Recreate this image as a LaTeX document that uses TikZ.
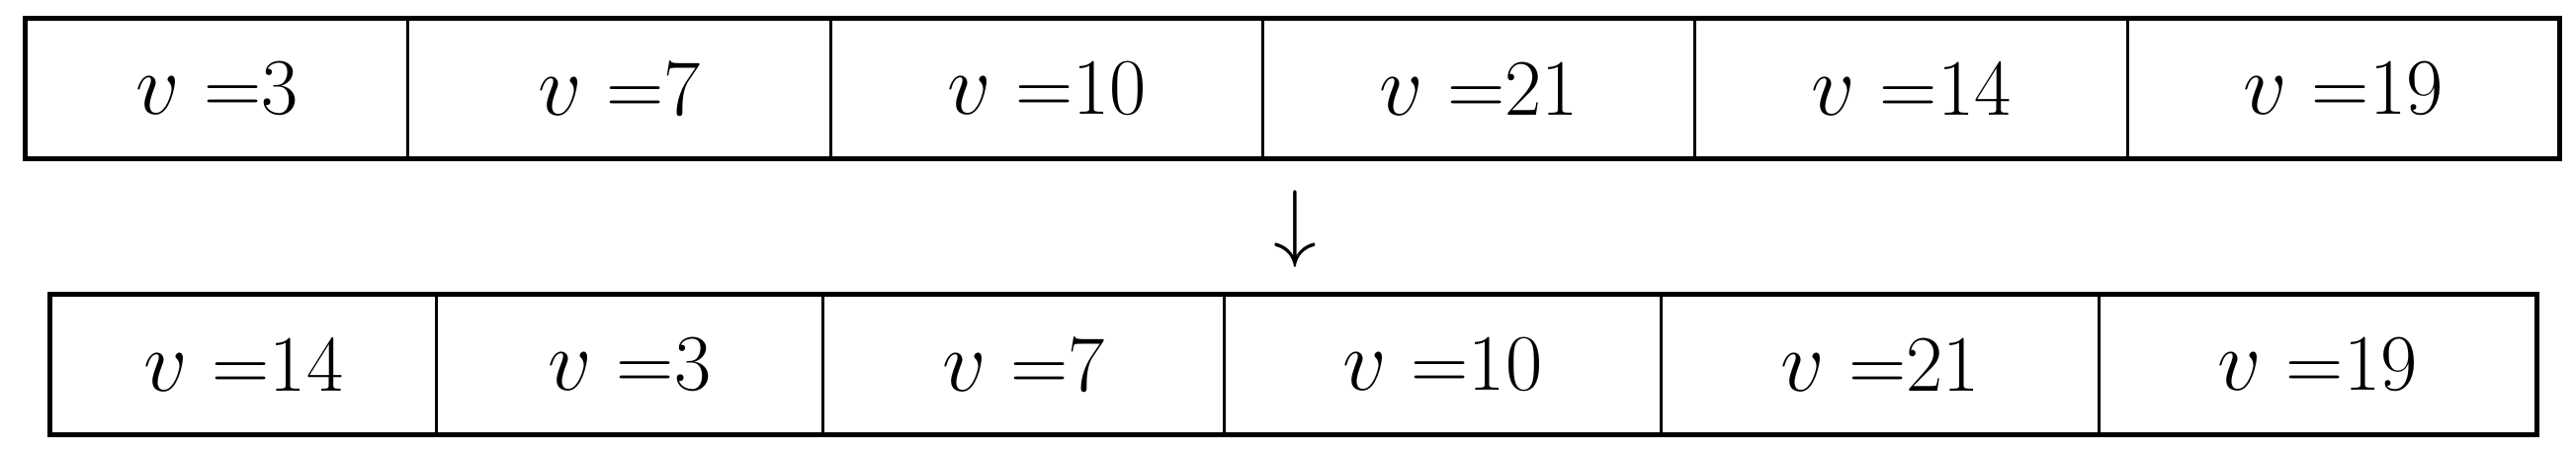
\documentclass[tikz,border=0pt]{standalone}
\usetikzlibrary{fit}
\begin{document}
\begin{tikzpicture}[x=0.01cm,y=-0.01cm,
  cell/.style={draw,line width=0.85pt,inner sep=0pt,anchor=north west,font=\fontsize{23}{27}\selectfont},
  outer/.style={draw,line width=1.2pt,inner sep=0pt}]
\useasboundingbox (0,0) rectangle (2606,460);
% top row
\def\ty{18}\def\th{140}
\foreach \n/\a/\b/\t in {t1/25/411/3,t2/411/839/7,t3/839/1276/10,t4/1276/1713/21,t5/1713/2151/14,t6/2151/2587/19}{
  \node[cell,minimum width={(\b-\a)*0.01cm},minimum height=1.4cm] (\n) at (\a,\ty) {$v$ =\t};
}
\node[outer,fit=(t1)(t6)] (top) {};
% bottom row
\def\by{297}
\foreach \n/\a/\b/\t in {b1/50/440/14,b2/440/831/3,b3/831/1237/7,b4/1237/1679/10,b5/1679/2122/21,b6/2122/2564/19}{
  \node[cell,minimum width={(\b-\a)*0.01cm},minimum height=1.4cm] (\n) at (\a,\by) {$v$ =\t};
}
\node[outer,fit=(b1)(b6)] (bot) {};
\node[font=\fontsize{23}{27}\selectfont] (arr) at (1310,232) {$\downarrow$};
\end{tikzpicture}
\end{document}
